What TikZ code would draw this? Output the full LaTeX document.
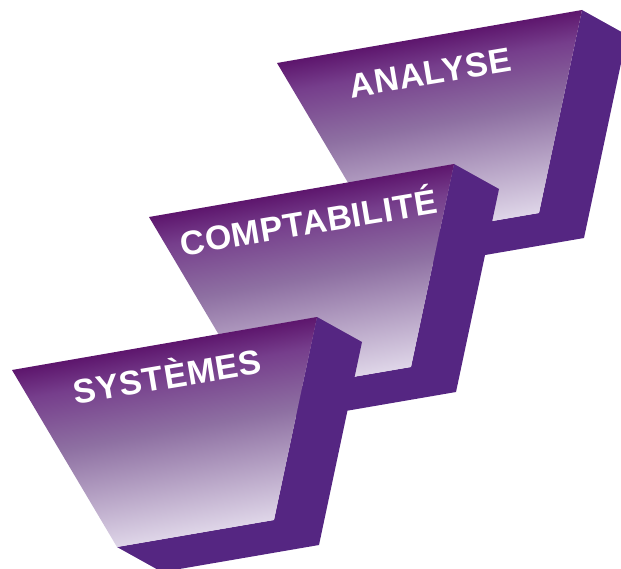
\documentclass[tikz,border=0pt]{standalone}
\usepackage{fontspec}
\setmainfont{Liberation Sans}
\newfontfamily\lblfont[LetterSpace=2]{Liberation Sans}
\definecolor{sidec}{RGB}{85,38,130}
\definecolor{topc}{RGB}{86,10,100}
\definecolor{upc}{RGB}{118,62,140}
\definecolor{midc}{RGB}{142,112,162}
\definecolor{botc}{RGB}{234,228,242}
\pgfdeclareverticalshading{facesh}{100bp}{color(0bp)=(botc); color(25bp)=(botc); color(50bp)=(midc); color(62bp)=(upc); color(70bp)=(topc); color(100bp)=(topc)}
\tikzset{
  lbl/.style={text=white, font=\lblfont\bfseries\fontsize{34}{36}\selectfont, rotate=9.5, inner sep=0pt},
  sideface/.style={fill=sidec},
  frontface/.style={shading=facesh, shading angle=10}
}
\newcommand\myblock[2]{%
  \begin{scope}[shift={(#1,#2)}]
    \fill[sideface] (305,-53) -- (350,-28) -- (307,175) -- (150,202) -- (105,177) -- (262,150) -- cycle;
    \shade[frontface] (0,0) -- (305,-53) -- (262,150) -- (105,177) -- cycle;
  \end{scope}}
\begin{document}
\begin{tikzpicture}[x=1pt,y=-1pt]
\useasboundingbox (0,0) rectangle (621,569);
\clip (0,0) rectangle (621,569);
\myblock{277}{63}
\node[lbl] (ana) at (430,73) {ANALYSE};
\myblock{149}{217}
\node[lbl] (comp) at (308,220) {COMPTABILITÉ};
\myblock{12}{370}
\node[lbl] (sys) at (167,374) {SYSTÈMES};
\end{tikzpicture}
\end{document}
